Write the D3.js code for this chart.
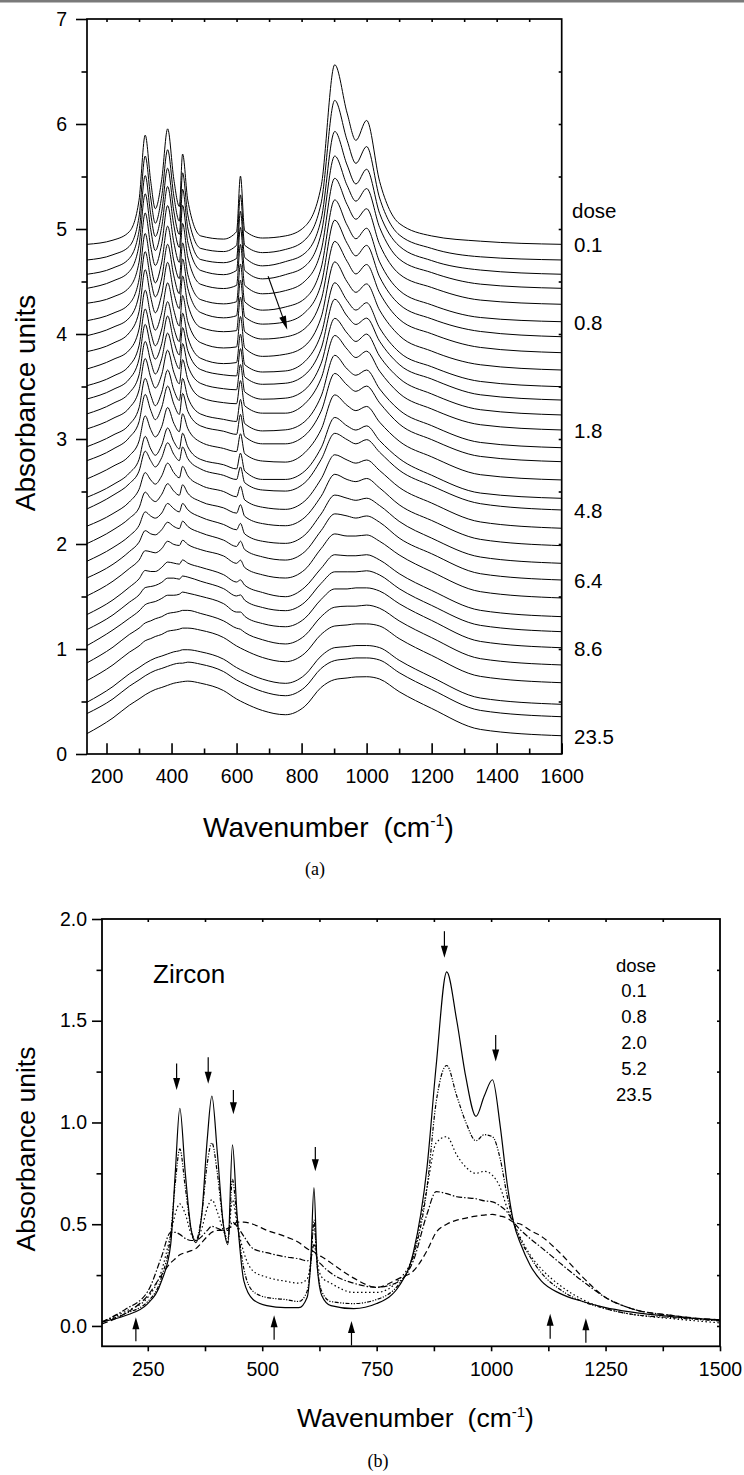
<!DOCTYPE html>
<html>
<head>
<meta charset="utf-8">
<script src="https://cdn.jsdelivr.net/npm/d3@7"></script>
<style>
body { margin: 0; background: #fff; }
svg text { font-family: "Liberation Sans", Arial, Helvetica, sans-serif; fill: #000; }
</style>
</head>
<body>
<svg id="chart" width="744" height="1475"></svg>
<script>
// ---------- panel (a): stacked spectra ----------
var wavenumbersA = [140, 220, 270, 300, 319, 336, 350, 370, 388, 407, 424, 434, 450, 490, 560, 600, 612, 625, 680, 750, 810, 860, 902, 940, 967, 1000, 1040, 1100, 1200, 1350, 1600];

// vertical offset of each trace (value at 1600 cm-1)
var offsetsA = [4.854, 4.705, 4.569, 4.435, 4.283, 4.117, 3.974, 3.822, 3.657, 3.498, 3.371, 3.229, 3.086, 2.917, 2.784, 2.610, 2.435, 2.324, 2.150, 1.984, 1.816, 1.657, 1.486, 1.308, 1.165, 1.012, 0.848, 0.679, 0.473, 0.355, 0.174];

// absorbance above the offset, one row per trace (top = lowest dose)
var spectraA = [
  [0.00,0.04,0.12,0.42,1.04,0.60,0.34,0.62,1.10,0.62,0.36,0.86,0.42,0.08,0.05,0.12,0.65,0.13,0.06,0.08,0.17,0.55,1.71,1.25,0.99,1.18,0.60,0.20,0.08,0.03,0],
  [0.00,0.05,0.13,0.41,0.99,0.59,0.35,0.61,1.05,0.61,0.37,0.83,0.43,0.11,0.08,0.14,0.62,0.14,0.07,0.10,0.19,0.54,1.52,1.14,0.92,1.08,0.59,0.24,0.11,0.03,0],
  [0.00,0.06,0.15,0.41,0.94,0.57,0.36,0.60,1.01,0.60,0.38,0.81,0.44,0.14,0.11,0.15,0.60,0.16,0.08,0.12,0.20,0.52,1.36,1.04,0.86,1.00,0.58,0.27,0.13,0.04,0],
  [0.00,0.07,0.16,0.41,0.90,0.56,0.36,0.59,0.97,0.60,0.39,0.79,0.44,0.17,0.13,0.17,0.58,0.17,0.09,0.13,0.21,0.52,1.26,0.98,0.83,0.95,0.58,0.28,0.15,0.04,0],
  [0.01,0.07,0.16,0.40,0.87,0.55,0.37,0.58,0.94,0.59,0.40,0.77,0.45,0.19,0.15,0.18,0.57,0.18,0.10,0.13,0.22,0.51,1.20,0.95,0.81,0.91,0.57,0.29,0.16,0.04,0],
  [0.01,0.08,0.17,0.40,0.84,0.54,0.37,0.57,0.91,0.58,0.41,0.75,0.45,0.21,0.17,0.19,0.55,0.19,0.11,0.14,0.22,0.51,1.16,0.92,0.79,0.89,0.57,0.30,0.16,0.04,0],
  [0.01,0.09,0.18,0.40,0.81,0.54,0.38,0.56,0.88,0.58,0.41,0.74,0.46,0.23,0.18,0.20,0.54,0.19,0.12,0.14,0.23,0.50,1.11,0.89,0.77,0.87,0.57,0.31,0.17,0.05,0],
  [0.01,0.09,0.19,0.39,0.79,0.53,0.38,0.56,0.86,0.57,0.42,0.73,0.46,0.24,0.20,0.21,0.53,0.20,0.13,0.15,0.23,0.50,1.06,0.87,0.75,0.84,0.57,0.32,0.18,0.05,0],
  [0.01,0.10,0.19,0.39,0.76,0.52,0.38,0.55,0.83,0.57,0.42,0.71,0.46,0.26,0.21,0.22,0.51,0.21,0.13,0.15,0.23,0.50,1.03,0.84,0.74,0.82,0.57,0.33,0.18,0.05,0],
  [0.01,0.10,0.20,0.39,0.74,0.52,0.39,0.55,0.81,0.56,0.43,0.70,0.47,0.27,0.22,0.23,0.50,0.21,0.14,0.15,0.24,0.50,0.99,0.82,0.73,0.80,0.56,0.33,0.19,0.05,0],
  [0.01,0.10,0.20,0.39,0.72,0.51,0.39,0.54,0.80,0.56,0.43,0.69,0.47,0.29,0.24,0.23,0.49,0.22,0.15,0.16,0.24,0.49,0.96,0.80,0.72,0.78,0.56,0.34,0.20,0.05,0],
  [0.01,0.11,0.21,0.38,0.70,0.51,0.39,0.54,0.78,0.56,0.44,0.68,0.47,0.30,0.25,0.24,0.48,0.22,0.15,0.16,0.24,0.49,0.92,0.78,0.70,0.77,0.56,0.35,0.20,0.05,0],
  [0.01,0.11,0.21,0.38,0.68,0.50,0.40,0.53,0.76,0.55,0.44,0.67,0.48,0.31,0.26,0.25,0.47,0.23,0.16,0.16,0.25,0.49,0.90,0.77,0.69,0.75,0.56,0.35,0.20,0.05,0],
  [0.01,0.12,0.22,0.38,0.66,0.50,0.40,0.53,0.74,0.55,0.45,0.66,0.48,0.32,0.27,0.25,0.46,0.23,0.16,0.17,0.25,0.49,0.88,0.75,0.69,0.74,0.56,0.36,0.21,0.05,0],
  [0.01,0.12,0.23,0.38,0.64,0.49,0.40,0.52,0.72,0.55,0.45,0.65,0.48,0.34,0.29,0.26,0.45,0.24,0.17,0.17,0.25,0.48,0.84,0.73,0.67,0.72,0.56,0.36,0.21,0.05,0],
  [0.01,0.13,0.23,0.37,0.61,0.48,0.41,0.51,0.69,0.54,0.46,0.63,0.49,0.36,0.30,0.27,0.44,0.25,0.18,0.17,0.26,0.48,0.81,0.71,0.66,0.70,0.55,0.37,0.22,0.05,0],
  [0.01,0.13,0.24,0.37,0.59,0.47,0.41,0.51,0.67,0.54,0.47,0.62,0.49,0.37,0.32,0.28,0.43,0.26,0.18,0.18,0.26,0.48,0.77,0.69,0.65,0.69,0.55,0.38,0.22,0.05,0],
  [0.01,0.14,0.25,0.37,0.56,0.47,0.41,0.50,0.64,0.53,0.47,0.60,0.49,0.39,0.33,0.29,0.41,0.26,0.19,0.18,0.26,0.48,0.73,0.67,0.63,0.67,0.55,0.38,0.23,0.06,0],
  [0.02,0.14,0.25,0.37,0.53,0.46,0.42,0.50,0.62,0.53,0.48,0.59,0.50,0.41,0.35,0.30,0.40,0.27,0.20,0.18,0.26,0.47,0.70,0.65,0.62,0.65,0.55,0.39,0.24,0.06,0],
  [0.02,0.15,0.26,0.36,0.51,0.45,0.42,0.49,0.59,0.52,0.48,0.58,0.50,0.42,0.36,0.31,0.39,0.28,0.21,0.19,0.27,0.47,0.68,0.63,0.61,0.64,0.55,0.39,0.24,0.06,0],
  [0.02,0.15,0.26,0.36,0.49,0.45,0.43,0.48,0.57,0.52,0.49,0.57,0.51,0.44,0.37,0.32,0.38,0.28,0.21,0.19,0.27,0.47,0.65,0.62,0.60,0.62,0.55,0.40,0.24,0.06,0],
  [0.02,0.15,0.27,0.36,0.47,0.44,0.43,0.48,0.55,0.51,0.49,0.56,0.51,0.45,0.38,0.32,0.37,0.29,0.22,0.19,0.27,0.47,0.63,0.61,0.59,0.61,0.55,0.40,0.25,0.06,0],
  [0.02,0.16,0.28,0.36,0.45,0.44,0.43,0.47,0.54,0.51,0.50,0.55,0.51,0.46,0.40,0.33,0.36,0.29,0.22,0.19,0.27,0.47,0.61,0.59,0.59,0.60,0.54,0.41,0.25,0.06,0],
  [0.02,0.16,0.28,0.36,0.44,0.43,0.43,0.47,0.52,0.51,0.50,0.54,0.51,0.47,0.40,0.33,0.35,0.30,0.23,0.19,0.28,0.46,0.59,0.58,0.58,0.59,0.54,0.41,0.25,0.06,0],
  [0.02,0.16,0.28,0.35,0.42,0.43,0.44,0.47,0.51,0.51,0.50,0.53,0.52,0.48,0.41,0.34,0.35,0.30,0.23,0.20,0.28,0.46,0.57,0.57,0.57,0.58,0.54,0.41,0.25,0.06,0],
  [0.02,0.17,0.28,0.35,0.41,0.43,0.44,0.47,0.50,0.50,0.51,0.53,0.52,0.49,0.42,0.34,0.34,0.30,0.23,0.20,0.28,0.46,0.56,0.56,0.57,0.57,0.54,0.42,0.26,0.06,0],
  [0.02,0.17,0.29,0.35,0.40,0.42,0.44,0.46,0.49,0.50,0.51,0.52,0.52,0.49,0.42,0.35,0.34,0.31,0.24,0.20,0.28,0.46,0.55,0.56,0.56,0.57,0.54,0.42,0.26,0.06,0],
  [0.02,0.17,0.29,0.35,0.40,0.42,0.44,0.46,0.49,0.50,0.51,0.52,0.52,0.50,0.43,0.35,0.33,0.31,0.24,0.20,0.28,0.46,0.54,0.55,0.56,0.56,0.54,0.42,0.26,0.06,0],
  [0.02,0.17,0.29,0.35,0.39,0.42,0.44,0.46,0.48,0.50,0.51,0.52,0.52,0.50,0.43,0.35,0.33,0.31,0.24,0.20,0.28,0.46,0.54,0.55,0.56,0.56,0.54,0.42,0.26,0.06,0],
  [0.03,0.17,0.29,0.35,0.39,0.42,0.44,0.46,0.48,0.50,0.51,0.51,0.52,0.50,0.43,0.35,0.33,0.31,0.24,0.20,0.28,0.46,0.535,0.55,0.56,0.56,0.54,0.42,0.26,0.06,0],
  [0.02,0.17,0.29,0.35,0.39,0.42,0.44,0.46,0.48,0.50,0.51,0.515,0.52,0.50,0.43,0.35,0.33,0.31,0.24,0.20,0.28,0.46,0.535,0.55,0.56,0.562,0.54,0.42,0.26,0.06,0]
];

var doseLabelsA = ["0.1", "0.8", "1.8", "4.8", "6.4", "8.6", "23.5"];
var doseTraceA = [0, 5, 12, 17, 21, 25, 30];
var arrowA = [[697, 4.55], [756, 4.04]];

// ---------- panel (b): five doses ----------
var wavenumbersB = [150,200,250,280,300,310,320,332,345,355,368,380,390,402,415,425,435,445,460,480,510,550,580,598,606,613,620,630,650,700,750,800,830,860,880,903,925,945,967,985,1003,1020,1035,1049,1065,1085,1110,1150,1200,1250,1300,1400,1500];
var dosesB = ["0.1", "0.8", "2.0", "5.2", "23.5"];
var dose01 = [0.02,0.05,0.11,0.22,0.40,0.75,1.07,0.75,0.47,0.41,0.55,0.92,1.13,0.85,0.50,0.40,0.89,0.55,0.22,0.13,0.10,0.09,0.09,0.14,0.32,0.68,0.30,0.15,0.10,0.085,0.11,0.20,0.36,0.78,1.28,1.74,1.50,1.22,1.03,1.13,1.21,0.98,0.70,0.51,0.40,0.30,0.22,0.16,0.12,0.09,0.07,0.045,0.03];
var dose08 = [0.02,0.06,0.12,0.24,0.45,0.70,0.87,0.68,0.47,0.42,0.55,0.80,0.90,0.75,0.50,0.41,0.72,0.52,0.28,0.17,0.14,0.13,0.12,0.17,0.30,0.52,0.30,0.17,0.12,0.11,0.13,0.21,0.34,0.68,1.10,1.28,1.13,1.00,0.91,0.94,0.93,0.82,0.64,0.51,0.42,0.34,0.26,0.18,0.12,0.085,0.06,0.04,0.025];
var dose20 = [0.02,0.07,0.14,0.27,0.45,0.55,0.60,0.55,0.45,0.42,0.48,0.58,0.62,0.56,0.47,0.43,0.62,0.50,0.36,0.27,0.24,0.22,0.21,0.23,0.32,0.50,0.32,0.24,0.21,0.165,0.165,0.23,0.35,0.68,0.90,0.93,0.84,0.78,0.75,0.76,0.74,0.68,0.58,0.51,0.43,0.35,0.28,0.20,0.13,0.085,0.06,0.035,0.015];
var dose52 = [0.02,0.08,0.17,0.34,0.46,0.46,0.45,0.43,0.42,0.42,0.44,0.47,0.49,0.48,0.47,0.47,0.51,0.49,0.44,0.38,0.36,0.34,0.33,0.32,0.33,0.40,0.33,0.30,0.26,0.21,0.19,0.22,0.32,0.55,0.66,0.65,0.635,0.63,0.625,0.615,0.61,0.59,0.56,0.51,0.47,0.43,0.385,0.31,0.22,0.14,0.09,0.05,0.025];
var dose235 = [0.01,0.06,0.15,0.25,0.31,0.33,0.35,0.36,0.37,0.38,0.41,0.44,0.46,0.47,0.47,0.48,0.49,0.51,0.51,0.50,0.47,0.44,0.41,0.38,0.37,0.365,0.35,0.34,0.31,0.235,0.19,0.235,0.27,0.37,0.46,0.50,0.52,0.53,0.54,0.545,0.548,0.54,0.53,0.51,0.50,0.47,0.44,0.36,0.24,0.14,0.09,0.05,0.03];
var seriesB = [dose01, dose08, dose20, dose52, dose235];
var dashB = [null, "4,1.5,1.2,1.5,1.2,1.5", "1.5,2.5", "6,2,1.5,2", "6,3.5"];

// peak markers: [wavenumber, from, to]
var downArrowsB = [[313, 1.29, 1.16], [382, 1.32, 1.19], [437, 1.16, 1.04], [616, 0.88, 0.76], [898, 1.94, 1.81], [1010, 1.43, 1.30]];
var upArrowsB = [[224, -0.075, 0.043], [526, -0.068, 0.052], [695, -0.096, 0.024], [1129, -0.063, 0.06], [1207, -0.083, 0.038]];

var svg = d3.select("#chart");
var FONT = '"Liberation Sans", Arial, Helvetica, sans-serif';

svg.append("rect").attr("x", 0).attr("y", 0).attr("width", 744).attr("height", 2.5).attr("fill", "#7a7a7a");

function styleAxis(g, size) {
  g.attr("font-family", FONT).attr("font-size", size);
  g.select(".domain").remove();
  g.selectAll("line").attr("stroke", "#000").attr("stroke-width", 1.6);
  g.selectAll("text").attr("fill", "#000");
}

function arrow(g, x1, y1, x2, y2, len, wid, sw) {
  var dx = x2 - x1, dy = y2 - y1, d = Math.sqrt(dx * dx + dy * dy);
  var ux = dx / d, uy = dy / d;
  var bx = x2 - ux * len, by = y2 - uy * len;
  g.append("line").attr("x1", x1).attr("y1", y1).attr("x2", bx + ux).attr("y2", by + uy)
    .attr("stroke", "#000").attr("stroke-width", sw);
  g.append("path")
    .attr("d", "M" + x2 + "," + y2 + "L" + (bx - uy * wid / 2) + "," + (by + ux * wid / 2) +
      "L" + (bx + uy * wid / 2) + "," + (by - ux * wid / 2) + "Z")
    .attr("fill", "#000");
}

// ===== panel (a) =====
var xA = d3.scaleLinear().domain([140, 1600]).range([87, 561.7]);
var yA = d3.scaleLinear().domain([0, 7]).range([754, 19]);
var gA = svg.append("g");

var line = d3.line().curve(d3.curveMonotoneX);

spectraA.forEach(function (row, i) {
  var pts = row.map(function (v, k) { return [xA(wavenumbersA[k]), yA(v + offsetsA[i])]; });
  gA.append("path").attr("d", line(pts)).attr("fill", "none")
    .attr("stroke", "#000").attr("stroke-width", 1);
});

gA.append("g").attr("transform", "translate(0,754)")
  .call(d3.axisBottom(xA).tickValues(d3.range(300, 1600, 200)).tickSize(-5.5).tickFormat(""))
  .call(styleAxis, 19.5);
gA.append("g").attr("transform", "translate(0,754)")
  .call(d3.axisBottom(xA).tickValues(d3.range(200, 1601, 200)).tickSize(-10.7).tickPadding(15).tickFormat(d3.format("d")))
  .call(styleAxis, 19.5);
gA.append("g").attr("transform", "translate(87,0)")
  .call(d3.axisLeft(yA).tickValues(d3.range(0, 8)).tickSize(11).tickPadding(9).tickFormat(d3.format("d")))
  .call(styleAxis, 19.5);
gA.append("g").attr("transform", "translate(87,0)")
  .call(d3.axisLeft(yA).tickValues(d3.range(0.5, 7, 1)).tickSize(5.5).tickFormat(""))
  .call(styleAxis, 19.5);
gA.append("g").attr("transform", "translate(0,19)")
  .call(d3.axisTop(xA).tickValues(d3.range(200, 1600, 100)).tickSize(-3).tickFormat(""))
  .call(styleAxis, 19.5);
gA.append("g").attr("transform", "translate(561.7,0)")
  .call(d3.axisRight(yA).tickValues(d3.range(0.5, 7, 0.5)).tickSize(-3).tickFormat(""))
  .call(styleAxis, 19.5);
gA.append("rect").attr("x", 87).attr("y", 19).attr("width", 561.7 - 87).attr("height", 754 - 19)
  .attr("fill", "none").attr("stroke", "#000").attr("stroke-width", 1.7);

arrow(gA, xA(arrowA[0][0]), yA(arrowA[0][1]), xA(arrowA[1][0]), yA(arrowA[1][1]), 14, 7, 1.1);

gA.append("text").attr("x", 572).attr("y", 218).attr("font-size", 20.5).text("dose");
doseLabelsA.forEach(function (t, i) {
  gA.append("text").attr("x", 574).attr("y", yA(offsetsA[doseTraceA[i]]) + 8)
    .attr("font-size", 20.5).text(t);
});

gA.append("text").attr("transform", "translate(35,403) rotate(-90)")
  .attr("text-anchor", "middle").attr("font-size", 28).text("Absorbance units");

var tA = gA.append("text").attr("x", 203).attr("y", 836.7).attr("font-size", 28);
tA.append("tspan").text("Wavenumber");
tA.append("tspan").attr("dx", 15).text("(cm");
tA.append("tspan").attr("dy", -11).attr("font-size", 16).text("-1");
tA.append("tspan").attr("dy", 11).text(")");

gA.append("text").attr("x", 315).attr("y", 875).attr("text-anchor", "middle")
  .attr("font-size", 18).style("font-family", '"Liberation Serif", "Times New Roman", serif').text("(a)");

// ===== panel (b) =====
var xB = d3.scaleLinear().domain([150, 1500]).range([102, 720]);
var yB = d3.scaleLinear().domain([-0.1, 2.0]).range([1346.3, 919]);
var gB = svg.append("g");

var clipB = svg.append("clipPath").attr("id", "clipB");
clipB.append("rect").attr("x", 102).attr("y", 919).attr("width", 618).attr("height", 427.3);

seriesB.forEach(function (vals, i) {
  var pts = vals.map(function (v, k) { return [xB(wavenumbersB[k]), yB(v)]; });
  gB.append("path").attr("d", line(pts)).attr("fill", "none")
    .attr("clip-path", "url(#clipB)")
    .attr("stroke", "#000").attr("stroke-width", 1.2)
    .attr("stroke-dasharray", dashB[i]);
});

gB.append("g").attr("transform", "translate(0,1346.3)")
  .call(d3.axisBottom(xB).tickValues(d3.range(250, 1501, 250)).tickSize(5).tickPadding(11).tickFormat(d3.format("d")))
  .call(styleAxis, 19.5);
gB.append("g").attr("transform", "translate(0,1346.3)")
  .call(d3.axisBottom(xB).tickValues(d3.range(375, 1500, 250)).tickSize(5).tickFormat(""))
  .call(styleAxis, 19.5);
gB.append("g").attr("transform", "translate(102,0)")
  .call(d3.axisLeft(yB).tickValues([0, 0.5, 1, 1.5, 2]).tickSize(10).tickPadding(5).tickFormat(d3.format(".1f")))
  .call(styleAxis, 19.5);
gB.append("g").attr("transform", "translate(102,0)")
  .call(d3.axisLeft(yB).tickValues([0.25, 0.75, 1.25, 1.75]).tickSize(5.5).tickFormat(""))
  .call(styleAxis, 19.5);
gB.append("g").attr("transform", "translate(0,919)")
  .call(d3.axisTop(xB).tickValues(d3.range(250, 1500, 125)).tickSize(-3).tickFormat(""))
  .call(styleAxis, 19.5);
gB.append("g").attr("transform", "translate(720,0)")
  .call(d3.axisRight(yB).tickValues(d3.range(0, 2, 0.25)).tickSize(-3).tickFormat(""))
  .call(styleAxis, 19.5);
gB.append("rect").attr("x", 102).attr("y", 919).attr("width", 618).attr("height", 427.3)
  .attr("fill", "none").attr("stroke", "#000").attr("stroke-width", 1.8);

downArrowsB.forEach(function (a) {
  arrow(gB, xB(a[0]), yB(a[1]), xB(a[0]), yB(a[2]), 12, 7, 1.2);
});
upArrowsB.forEach(function (a) {
  arrow(gB, xB(a[0]), yB(a[1]), xB(a[0]), yB(a[2]), 12, 7, 1.2);
});

gB.append("text").attr("x", 153).attr("y", 983).attr("font-size", 26).text("Zircon");

gB.append("text").attr("x", 636).attr("y", 971.7).attr("text-anchor", "middle").attr("font-size", 18.5).text("dose");
dosesB.forEach(function (t, i) {
  gB.append("text").attr("x", 634).attr("y", 996.7 + 26 * i).attr("text-anchor", "middle")
    .attr("font-size", 18.5).text(t);
});

gB.append("text").attr("transform", "translate(35,1149) rotate(-90)")
  .attr("text-anchor", "middle").attr("font-size", 26.5).text("Absorbance units");

var tB = gB.append("text").attr("x", 297).attr("y", 1426.7).attr("font-size", 26.5);
tB.append("tspan").text("Wavenumber");
tB.append("tspan").attr("dx", 14).text("(cm");
tB.append("tspan").attr("dy", -10).attr("font-size", 15).text("-1");
tB.append("tspan").attr("dy", 10).text(")");

gB.append("text").attr("x", 378).attr("y", 1467).attr("text-anchor", "middle")
  .attr("font-size", 18).style("font-family", '"Liberation Serif", "Times New Roman", serif').text("(b)");
</script>
</body>
</html>
